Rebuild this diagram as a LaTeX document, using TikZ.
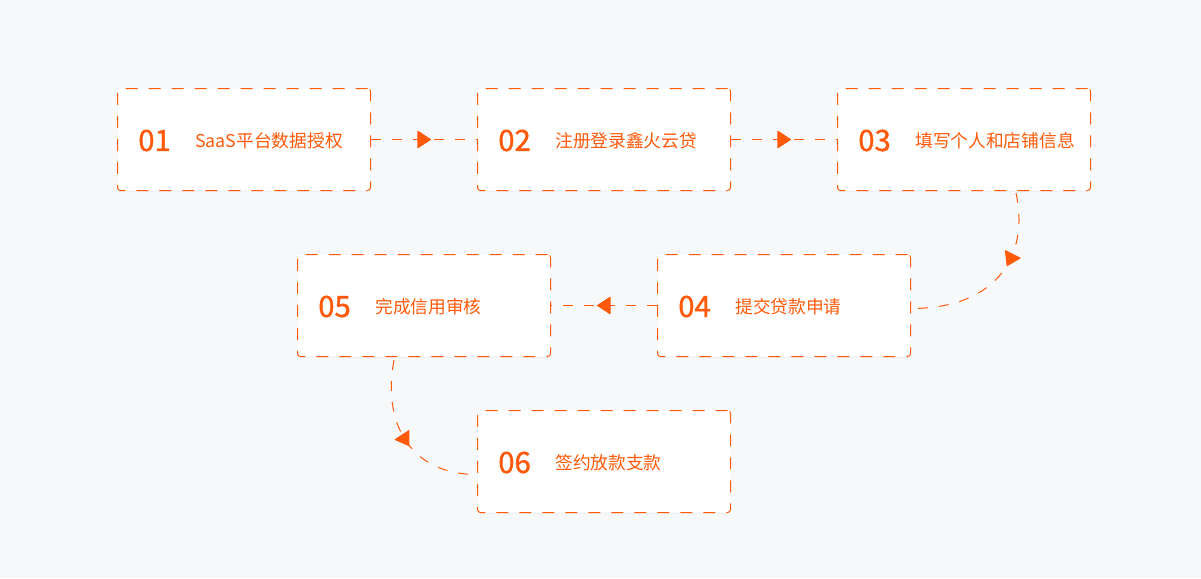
\documentclass[tikz,border=0pt]{standalone}
\usepackage{fontspec}
\setmainfont{Noto Sans CJK SC}
\newfontfamily\stepnumfont{Noto Sans CJK SC}[FakeBold=1.2]
\usetikzlibrary{arrows.meta,decorations.markings,calc,shadows}
\definecolor{pagebg}{HTML}{F7F8FA}
\definecolor{accent}{HTML}{FF5A0A}
\begin{document}
\begin{tikzpicture}[x=0.75pt,y=-0.75pt,
  stepbox/.style={draw=accent, line width=0.75pt, dash pattern=on 9pt off 8.25pt,
    fill=white, rounded corners=2.25pt, minimum width=189.75pt, minimum height=76.5pt,
    anchor=north west, inner sep=0pt,
    drop shadow={shadow xshift=0pt, shadow yshift=-0.75pt, opacity=0.05, fill=black}},
  stepnum/.style={text=accent, font=\stepnumfont\fontsize{22}{22}\selectfont, anchor=west, inner sep=0pt},
  steptext/.style={text=accent, font=\fontsize{13.3}{14}\selectfont, anchor=west, inner sep=0pt},
  flow/.style={draw=accent, line width=0.75pt, dash pattern=on 7.5pt off 8.25pt},
  midtip/.style={postaction={decorate}, decoration={markings,
    mark=at position #1 with {\arrow[xshift=5.25pt]{Triangle[length=10.5pt, width=13.5pt, round]}}}},
  midtip/.default=0.5
]
  % page background and bounding box
  \fill[pagebg] (0,0) rectangle (1201,578);
  \useasboundingbox (0,0) rectangle (1201,578);

  % step boxes
  \node[stepbox] (n1) at (117,88) {};
  \node[stepbox] (n2) at (477,88) {};
  \node[stepbox] (n3) at (837,88) {};
  \node[stepbox] (n4) at (657,254) {};
  \node[stepbox] (n5) at (297,254) {};
  \node[stepbox] (n6) at (477,410) {};

  % numbers and labels
  \foreach \n/\num/\lbl in {n1/01/SaaS平台数据授权, n2/02/注册登录鑫火云贷, n3/03/填写个人和店铺信息,
      n4/04/提交贷款申请, n5/05/完成信用审核, n6/06/签约放款支款} {
    \node[stepnum] (\n num) at ($(\n.west)+(21,1)$) {\num};
    \node[steptext] (\n txt) at ($(\n.west)+(78,1)$) {\lbl};
  }

  % connectors
  \draw[flow, midtip] (n1.east) -- (n2.west);
  \draw[flow, midtip] (n2.east) -- (n3.west);
  \draw[flow, midtip] (n4.west) -- (n5.east);
  \draw[flow, midtip=0.37] ($(n3.south east)+(-75,2)$)
     .. controls ($(n3.south east)+(-62,60)$) and ($(n4.east)+(90,3)$) .. ($(n4.east)+(0,3)$);
  \draw[flow, midtip=0.5] ($(n5.south)+(-30,3)$)
     .. controls ($(n5.south)+(-42,66)$) and ($(n6.west)+(-67,13)$) .. ($(n6.west)+(0,13)$);
\end{tikzpicture}
\end{document}
